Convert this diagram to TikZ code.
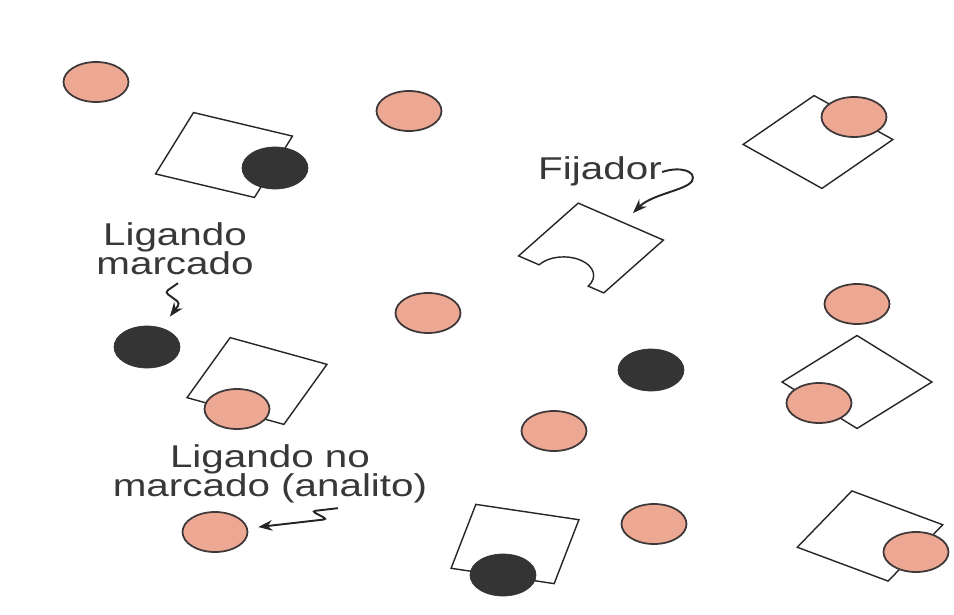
\documentclass[tikz,border=0pt]{standalone}
\usepackage{fontspec}
\setmainfont{Liberation Sans}
\usepackage{tikz}
\usetikzlibrary{positioning,shapes,arrows.meta}
\usepackage{xcolor}
\definecolor{salmon}{RGB}{237,168,148}
\definecolor{borde}{RGB}{62,56,56}
\definecolor{oscuro}{RGB}{52,52,52}
\tikzstyle{libre}=[ellipse, draw=borde, line width=1pt, fill=salmon,
minimum width=1.3cm, minimum height=0.8cm, inner sep=0pt]
\tikzstyle{marcado}=[ellipse, draw=oscuro, fill=oscuro,
minimum width=1.32cm, minimum height=0.84cm, inner sep=0pt]
\tikzstyle{rotulo}=[inner sep=0pt, text=black!78, font=\fontsize{23}{17}\selectfont]
\tikzstyle{caja}=[draw=black!85, line width=0.8pt]
\tikzstyle{flecha}=[draw=black!85, line width=1.1pt, -{Stealth[length=8pt,width=6pt]}]
\newcommand{\aplastar}[1]{\scalebox{1}[0.78]{\begin{tabular}{@{}c@{}}#1\end{tabular}}}
\newcommand{\fijador}[3]{\draw[caja, shift={(#1,#2)}, yscale=0.62, rotate=#3]
  (-53,-53) -- (53,-53) -- (53,53) -- (-53,53) -- cycle;}

\begin{document}
\begin{tikzpicture}[x=0.02cm, y=-0.02cm]
            \path[use as bounding box, fill=white] (0,0) rectangle (954,615);

            \fijador{224}{155}{-21}
            \fijador{818}{142}{-42}
            \fijador{857}{382}{-45}
            \fijador{257}{381}{-24}
            \fijador{515}{544}{-13.5}
            \fijador{870}{536}{-31}
            \draw[caja, shift={(591,248)}, yscale=0.62, rotate=-35]
                (-52,-52) -- (52,-52) -- (52,52) -- (33,52)
                arc[start angle=0, end angle=-180, radius=30] -- (-52,52) -- cycle;

            \node (libre1)[libre] at (96,82) {};
            \node (libre2)[libre] at (409,111) {};
            \node (libre3)[libre] at (854,117) {};
            \node (libre4)[libre] at (428,313) {};
            \node (libre5)[libre] at (857,304) {};
            \node (libre6)[libre] at (819,403) {};
            \node (libre7)[libre] at (237,409) {};
            \node (libre8)[libre] at (554,431) {};
            \node (libre9)[libre] at (215,532) {};
            \node (libre10)[libre] at (654,524) {};
            \node (libre11)[libre] at (916,552) {};

            \node (marca1)[marcado] at (275,168) {};
            \node (marca2)[marcado] at (147,347) {};
            \node (marca3)[marcado] at (651,370) {};
            \node (marca4)[marcado] at (503,575) {};

            \node (lblFijador)[rotulo] at (600,172) {\aplastar{Fijador}};
            \node (lblMarcado)[rotulo] at (175,252) {\aplastar{Ligando\\marcado}};
            \node (lblAnalito)[rotulo] at (270,474) {\aplastar{Ligando no\\marcado (analito)}};

            \coordinate (puntaFijador) at (633,213);
            \draw[flecha] (lblFijador.east) .. controls (680,166) and (697,171) .. (692,181)
                .. controls (687,190) and (652,194) .. (puntaFijador);
            \draw[flecha, rounded corners=2pt, shorten >=0.28cm]
                ([xshift=0.06cm, yshift=-0.02cm]lblMarcado.south) -- ++(-13,9) -- ++(15,11) -- (marca2);
            \draw[flecha, rounded corners=2pt, shorten >=0.21cm]
                ([xshift=1.36cm, yshift=-0.08cm]lblAnalito.south) -- ++(-26,3) -- ++(15,8) -- (libre9);
\end{tikzpicture}
\end{document}
